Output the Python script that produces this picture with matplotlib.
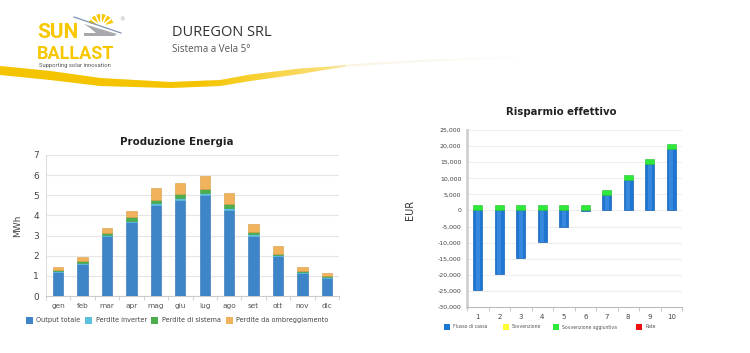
import matplotlib
matplotlib.use("Agg")
import matplotlib.pyplot as plt
import numpy as np
from matplotlib import font_manager
from matplotlib.patches import Rectangle, Wedge, Polygon
from matplotlib.ticker import FuncFormatter, MultipleLocator, FixedLocator
from matplotlib.colors import to_rgb

# ---------------- data ----------------
months = ["gen", "feb", "mar", "apr", "mag", "giu", "lug", "ago", "set", "ott", "nov", "dic"]
output_totale = [1.17, 1.6, 2.97, 3.65, 4.5, 4.78, 5.0, 4.25, 3.0, 1.97, 1.13, 0.9]
perdite_inverter = [0.05, 0.05, 0.05, 0.07, 0.1, 0.1, 0.1, 0.1, 0.07, 0.05, 0.05, 0.03]
perdite_sistema = [0.07, 0.1, 0.12, 0.2, 0.18, 0.2, 0.23, 0.2, 0.13, 0.08, 0.07, 0.06]
perdite_ombreggiamento = [0.16, 0.17, 0.26, 0.28, 0.57, 0.55, 0.62, 0.55, 0.35, 0.37, 0.17, 0.16]
energy_series = ["Output totale", "Perdite inverter", "Perdite di sistema", "Perdite da ombreggiamento"]

years = [1, 2, 3, 4, 5, 6, 7, 8, 9, 10]
flusso_di_cassa = [-24800, -19800, -14900, -9900, -5000, -200, 4700, 9500, 14300, 19000]
sovvenzione = [0, 0, 0, 0, 0, 0, 0, 0, 0, 0]
sovvenzione_aggiuntiva = [1600, 1600, 1600, 1600, 1600, 1600, 1600, 1500, 1600, 1600]
rate = [0, 0, 0, 0, 0, 0, 0, 0, 0, 0]
saving_series = ["Flusso di cassa", "Sovvenzione", "Sovvenzione aggiuntiva", "Rate"]

# ---------------- styles ----------------
W, H = 750, 353
c_out, c_inv, c_sis, c_omb = "#3d85c8", "#5bc0de", "#4cae4c", "#f0b35c"
c_flux, c_sov, c_agg, c_rate = "#1c76d2", "#ffff33", "#2ee83a", "#ee1111"
grid_c = "#e6e6e6"
txt_c = "#444444"

fig = plt.figure(figsize=(W / 100, H / 100), dpi=100)
fig.patch.set_facecolor("white")

def ax_px(x0, y0, x1, y1):
    return fig.add_axes([x0 / W, 1 - y1 / H, (x1 - x0) / W, (y1 - y0) / H])

# overlay in pixel coords
ov = fig.add_axes([0, 0, 1, 1], zorder=-1)
ov.set_xlim(0, W)
ov.set_ylim(H, 0)
ov.axis("off")

# swoosh
cx = [0, 50, 100, 170, 220, 250, 300, 345]
cu = [66, 71, 78, 82, 80, 74.5, 68.5, 65.5]
cl = [75, 80, 86, 88, 86, 81, 74, 66.5]
fx = np.linspace(0, 345, 116)
fu = np.interp(fx, cx, cu)
fl = np.interp(fx, cx, cl)
t = np.interp(fx, [0, 200, 345], [0.0, 0.0, 1.0])
c0, c1 = np.array(to_rgb("#f5c400")), np.array(to_rgb("#fae38a"))
for i in range(len(fx) - 1):
    pts = [[fx[i], fu[i]], [fx[i + 1] + 0.6, fu[i + 1]], [fx[i + 1] + 0.6, fl[i + 1]], [fx[i], fl[i]]]
    ov.add_patch(Polygon(pts, closed=True, facecolor=tuple(c0 * (1 - t[i]) + c1 * t[i]), edgecolor="none"))
# faint tail
tx = np.linspace(330, 520, 40)
tu = np.interp(tx, [330, 420, 520], [65.5, 60, 56])
ta = np.interp(tx, [330, 420, 520], [0.5, 0.25, 0.0])
for i in range(len(tx) - 1):
    pts = [[tx[i], tu[i]], [tx[i + 1] + 0.6, tu[i + 1]], [tx[i + 1] + 0.6, tu[i + 1] + 2], [tx[i], tu[i] + 2]]
    ov.add_patch(Polygon(pts, closed=True, facecolor="#f3e7c0", edgecolor="none", alpha=ta[i]))

# logo
ov.add_patch(Wedge((101, 27), 13, 195, 345, facecolor="#f7c800", edgecolor="none"))
for a in range(195, 346, 25):
    ov.plot([101, 101 + 14 * np.cos(np.radians(a))], [27, 27 + 14 * np.sin(np.radians(a))], color="white", lw=1.2)
ov.add_patch(Wedge((101, 27), 5.5, 0, 360, facecolor="white", edgecolor="none"))
ov.add_patch(Polygon([[84, 22], [120, 33], [117, 36], [84, 36]], closed=True, facecolor="white", edgecolor="none"))
ov.add_patch(Polygon([[84, 24], [117, 34], [114, 36], [84, 36], [84, 33], [96, 33], [90, 28]], closed=True,
                     facecolor="#a7a9ac", edgecolor="none"))
ov.plot([74, 121], [17, 33], color="#7f95b0", lw=0.9)

names = {f.name for f in font_manager.fontManager.ttflist}
if "Liberation Sans Narrow" in names:
    logo_fam, s_sun, s_bal, s_sup = "Liberation Sans Narrow", 17, 16, 4.6
else:
    logo_fam, s_sun, s_bal, s_sup = "Roboto", 15, 13, 4.2
logo_font = dict(fontweight="bold", color="#f7c800", ha="left", va="baseline", family=logo_fam)
ov.text(37, 38, "SUN", fontsize=s_sun, **logo_font)
ov.text(37, 59, "BALLAST", fontsize=s_bal, **logo_font)
ov.text(119, 20, "®", fontsize=4, color="#999999", ha="left", va="center")
ov.text(39, 65, "Supporting solar innovation", fontsize=s_sup, color="#555555", ha="left", va="center",
        family=logo_fam)

ov.text(172, 33, "DUREGON SRL", fontsize=10.5, color="#333333", ha="left", va="center", family="Open Sans")
ov.text(172, 49, "Sistema a Vela 5°", fontsize=7, color="#555555", ha="left", va="center", family="Open Sans")

# ---------------- left chart ----------------
ax1 = ax_px(46, 155, 339, 296)
x = np.arange(len(months))
bw = 0.42
b0 = np.zeros(len(months))
for vals, col, ec in [(output_totale, c_out, "#2f6fb0"), (perdite_inverter, c_inv, c_inv),
                      (perdite_sistema, c_sis, "#3f9a3f"), (perdite_ombreggiamento, c_omb, "#d99a45")]:
    ax1.bar(x, vals, bw, bottom=b0, color=col, edgecolor=ec, linewidth=0.4, zorder=3)
    b0 = b0 + np.array(vals)
ax1.set_xlim(-0.5, len(months) - 0.5)
ax1.set_ylim(0, 7)
ax1.yaxis.set_major_locator(MultipleLocator(1))
ax1.set_xticks(x)
ax1.set_xticklabels(months)
ax1.xaxis.set_minor_locator(FixedLocator(np.arange(-0.5, len(months), 1)))
ax1.tick_params(axis="x", which="major", length=0, labelsize=5.3, labelcolor="#555555", pad=5)
ax1.tick_params(axis="x", which="minor", length=3, color="#cccccc")
ax1.tick_params(axis="y", length=0, labelsize=6.5, labelcolor=txt_c, pad=5)
ax1.grid(axis="y", color=grid_c, lw=0.8, zorder=0)
for s in ["top", "right"]:
    ax1.spines[s].set_visible(False)
ax1.spines["left"].set_color("#dddddd")
ax1.spines["bottom"].set_color("#cccccc")
ax1.set_ylabel("MWh", fontsize=6.5, color=txt_c, labelpad=8)
ax1.set_title("Produzione Energia", fontsize=7.4, fontweight="bold", color="#222222", pad=7, x=0.447)

# left legend
leg_x = [26, 85, 151, 226]
for xx, name, col in zip(leg_x, energy_series, [c_out, c_inv, c_sis, c_omb]):
    ov.add_patch(Rectangle((xx, 316.5), 7, 7, facecolor=col, edgecolor="none"))
    ov.text(xx + 10.5, 320, name, fontsize=4.7, color=txt_c, ha="left", va="center")

# ---------------- right chart ----------------
ax2 = ax_px(467, 130, 682, 307)
xr = np.arange(len(years))
bw2 = 0.4
flux = np.array(flusso_di_cassa, dtype=float)
pos_base = np.where(flux > 0, flux, 0)
ax2.bar(xr, flux, bw2, color=c_flux, edgecolor="#1560b5", linewidth=0.5, zorder=3)
ax2.bar(xr, flux, bw2 * 0.45, color="#4a98e4", edgecolor="none", alpha=0.55, zorder=3)
ax2.bar(xr, sovvenzione, bw2, bottom=pos_base, color=c_sov, edgecolor="none", zorder=3)
ax2.bar(xr, sovvenzione_aggiuntiva, bw2, bottom=pos_base + np.array(sovvenzione), color=c_agg,
        edgecolor="#22c02c", linewidth=0.4, zorder=3)
ax2.bar(xr, rate, bw2, color=c_rate, edgecolor="none", zorder=3)
ax2.set_xlim(-0.5, len(years) - 0.5)
ax2.set_ylim(-30000, 25000)
ax2.yaxis.set_major_locator(MultipleLocator(5000))
ax2.yaxis.set_major_formatter(FuncFormatter(lambda v, p: f"{int(v):,}"))
ax2.set_xticks(xr)
ax2.set_xticklabels([str(v) for v in years])
ax2.xaxis.set_minor_locator(FixedLocator(np.arange(-0.5, len(years), 1)))
ax2.tick_params(axis="x", which="major", length=0, labelsize=5, labelcolor=txt_c, pad=5)
ax2.tick_params(axis="x", which="minor", length=3, color="#bbbbbb")
ax2.tick_params(axis="y", length=0, labelsize=4.5, labelcolor=txt_c, pad=4)
ax2.grid(axis="y", color="#eeeeee", lw=0.8, zorder=0)
for s in ["top", "right"]:
    ax2.spines[s].set_visible(False)
ax2.spines["left"].set_color("#d0d0d0")
ax2.spines["left"].set_linewidth(2)
ax2.spines["bottom"].set_color("#bbbbbb")
ax2.set_ylabel("EUR", fontsize=7, color="#333333")
ax2.yaxis.set_label_coords(-0.24, 0.55)
ax2.set_title("Risparmio effettivo", fontsize=7.3, fontweight="bold", color="#222222", pad=11, x=0.44)

leg2_x = [444, 503, 553, 636]
for xx, name, col in zip(leg2_x, saving_series, [c_flux, c_sov, c_agg, c_rate]):
    ov.add_patch(Rectangle((xx, 324), 5.5, 5.5, facecolor=col, edgecolor="none"))
    ov.text(xx + 9, 327, name, fontsize=3.3, color="#555555", ha="left", va="center")

fig.savefig("out.png", dpi=100, facecolor="white")
